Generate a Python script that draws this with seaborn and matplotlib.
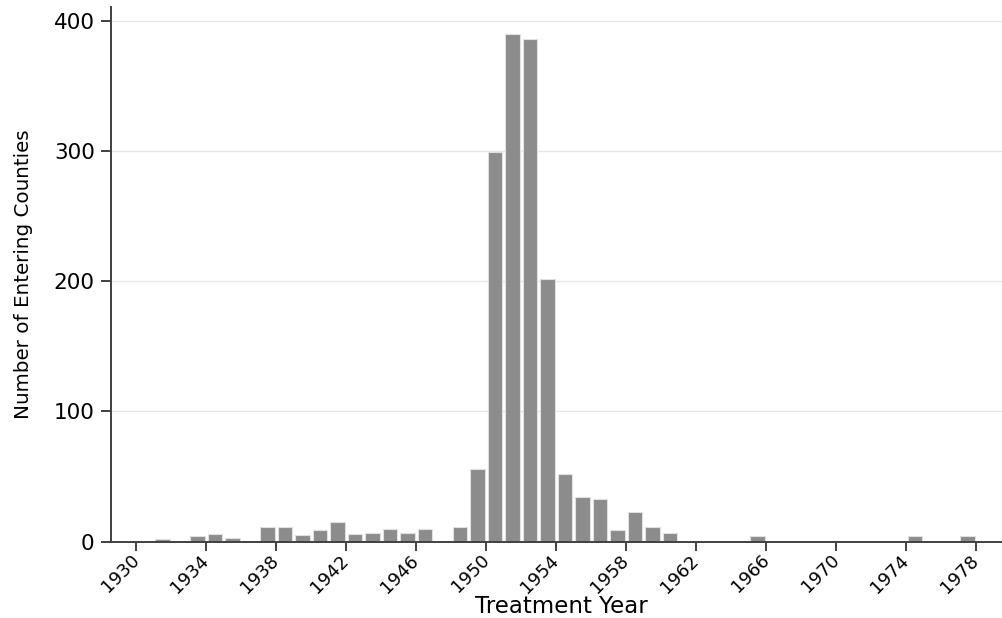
import numpy as np
import pandas as pd
import matplotlib
matplotlib.use("Agg")
import matplotlib.pyplot as plt
import seaborn as sns

# Treatment year (left edge of each 1-year bin) and number of entering counties
years = [1931, 1933, 1934, 1935, 1937, 1938, 1939, 1940, 1941, 1942, 1943, 1944,
         1945, 1946, 1948, 1949, 1950, 1951, 1952, 1953, 1954, 1955, 1956, 1957,
         1958, 1959, 1960, 1965, 1974, 1977]
counts = [2, 4, 6, 3, 11, 11, 5, 9, 15, 6, 7, 10,
          7, 10, 11, 56, 299, 390, 386, 202, 52, 34, 33, 9,
          23, 11, 7, 4, 4, 4]
xtick_years = list(range(1930, 1979, 4))
ytick_vals = [0, 100, 200, 300, 400]

df = pd.DataFrame({"year": np.array(years, dtype=float) + 0.5,
                   "count": np.array(counts, dtype=float)})

sns.set_theme(style="white")
plt.rcParams["font.family"] = ["DejaVu Sans"]

fig = plt.figure(figsize=(10.02, 6.18), dpi=100)
ax = fig.add_axes([0.1105, 0.1235, 0.8895, 0.8652])

sns.histplot(data=df, x="year", weights="count", binwidth=1, binrange=(1930, 1979),
             shrink=0.85, color="#8c8c8c", edgecolor="#e0e0e0", linewidth=0.8,
             alpha=1.0, ax=ax)

ax.set_xlim(1928.54, 1979.47)
ax.set_ylim(0, 410.5)

ax.set_axisbelow(True)
ax.yaxis.grid(True, color="#e6e6e6", linewidth=1.0)
ax.xaxis.grid(False)

for s in ["top", "right"]:
    ax.spines[s].set_visible(False)
for s in ["left", "bottom"]:
    ax.spines[s].set_color("#404040")
    ax.spines[s].set_linewidth(1.4)

ax.set_xticks(xtick_years)
ax.set_xticklabels([str(y) for y in xtick_years], rotation=45, ha="right",
                   va="center", rotation_mode="anchor", fontsize=13, color="black")
ax.set_yticks(ytick_vals)
ax.set_yticklabels([str(v) for v in ytick_vals], fontsize=15.5, color="black")

ax.tick_params(axis="x", direction="out", length=6.5, width=1.4, color="#404040",
               pad=5, bottom=True)
ax.tick_params(axis="y", direction="out", length=7.5, width=1.4, color="#404040",
               pad=4, left=True)

ax.set_xlabel("Treatment Year", fontsize=16.5, color="black", va="baseline")
ax.xaxis.set_label_coords(0.506, -0.133)
ax.set_ylabel("Number of Entering Counties", fontsize=14.3, color="black", va="center")
ax.yaxis.set_label_coords(-0.098, 0.5)

fig.savefig("out.png", dpi=100)
